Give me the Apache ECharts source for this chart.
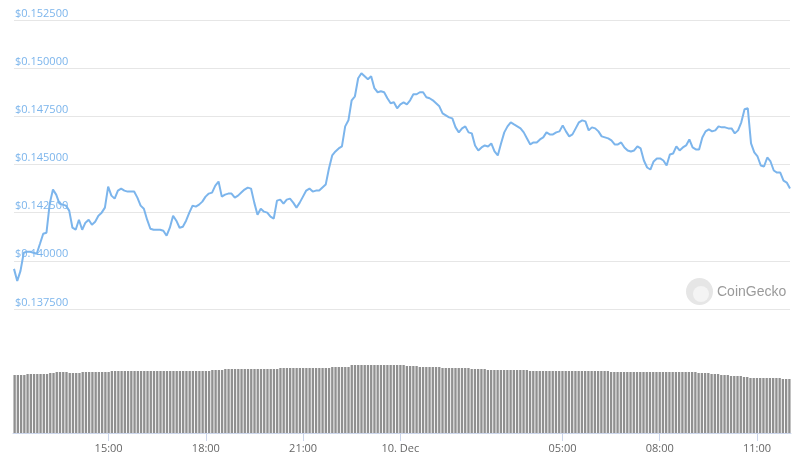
<!DOCTYPE html>
<html>
<head>
<meta charset="utf-8">
<script src="https://cdn.jsdelivr.net/npm/echarts@6/dist/echarts.min.js"></script>
<style>
html,body{margin:0;padding:0;background:#fff;}
#chart{width:807px;height:463px;}
</style>
</head>
<body>
<div id="chart"></div>
<script>
// Price (USD), one point every ~6 minutes starting 12:06
var prices = [
0.139583,0.138958,0.139479,0.140417,0.140469,0.140469,0.140417,0.140365,0.140885,0.141406,
0.141458,0.142969,0.143698,0.143438,0.142969,0.142917,0.142865,0.142604,0.141719,0.141615,
0.142135,0.141615,0.141979,0.142135,0.141875,0.142031,0.142344,0.142500,0.142760,0.143854,
0.143385,0.143229,0.143646,0.143750,0.143646,0.143594,0.143594,0.143594,0.143281,0.142865,
0.142708,0.142135,0.141667,0.141615,0.141615,0.141615,0.141563,0.141302,0.141719,0.142344,
0.142083,0.141719,0.141771,0.142083,0.142500,0.142865,0.142813,0.142917,0.143073,0.143333,
0.143490,0.143542,0.143906,0.144115,0.143333,0.143438,0.143490,0.143490,0.143281,0.143385,
0.143542,0.143698,0.143802,0.143750,0.143021,0.142396,0.142708,0.142552,0.142500,0.142292,
0.142188,0.143125,0.143177,0.142969,0.143177,0.143229,0.143021,0.142760,0.143021,0.143333,
0.143646,0.143750,0.143594,0.143646,0.143646,0.143802,0.143958,0.144792,0.145469,0.145677,
0.145833,0.145938,0.146979,0.147292,0.148333,0.148542,0.149479,0.149740,0.149583,0.149427,
0.149583,0.148958,0.148750,0.148802,0.148750,0.148438,0.148177,0.148229,0.147917,0.148125,
0.148229,0.148125,0.148333,0.148646,0.148646,0.148750,0.148750,0.148490,0.148438,0.148333,
0.148177,0.148021,0.147656,0.147552,0.147448,0.147396,0.146927,0.146667,0.146875,0.146979,
0.146667,0.146615,0.145990,0.145729,0.145885,0.145990,0.145938,0.146094,0.145677,0.145469,
0.146094,0.146667,0.146979,0.147188,0.147083,0.146979,0.146875,0.146667,0.146354,0.146042,
0.146146,0.146146,0.146302,0.146406,0.146667,0.146563,0.146563,0.146667,0.146719,0.147031,
0.146719,0.146458,0.146563,0.146875,0.147188,0.147292,0.147240,0.146771,0.146927,0.146875,
0.146719,0.146458,0.146406,0.146354,0.146250,0.146042,0.146042,0.146146,0.145885,0.145729,
0.145677,0.145729,0.145938,0.145833,0.145208,0.144844,0.144740,0.145156,0.145313,0.145313,
0.145208,0.144948,0.145521,0.145573,0.145938,0.145729,0.145885,0.145990,0.146302,0.145885,
0.145781,0.145781,0.146406,0.146719,0.146823,0.146719,0.146771,0.146979,0.146927,0.146927,
0.146875,0.146875,0.146615,0.146771,0.147188,0.147865,0.147917,0.146094,0.145625,0.145417,
0.144948,0.144896,0.145365,0.145156,0.144688,0.144583,0.144583,0.144167,0.144063,0.143750
];
// Volume (arbitrary units, millions)
var volumes = [
58,58,58,58,59,59,59,59,59,59,
59,60,60,61,61,61,61,60,60,60,
60,61,61,61,61,61,61,61,61,61,
62,62,62,62,62,62,62,62,62,62,
62,62,62,62,62,62,62,62,62,62,
62,62,62,62,62,62,62,62,62,62,
62,63,63,63,63,64,64,64,64,64,
64,64,64,64,64,64,64,64,64,64,
64,64,65,65,65,65,65,65,65,65,
65,65,65,65,65,65,65,65,66,66,
66,66,66,66,68,68,68,68,68,68,
68,68,68,68,68,68,68,68,68,68,
68,67,67,67,67,66,66,66,66,66,
66,66,65,65,65,65,65,65,65,65,
65,64,64,64,64,64,63,63,63,63,
63,63,63,63,63,63,63,63,63,62,
62,62,62,62,62,62,62,62,62,62,
62,62,62,62,62,62,62,62,62,62,
62,62,62,62,61,61,61,61,61,61,
61,61,61,61,61,61,61,61,61,61,
61,61,61,61,61,61,61,61,61,61,
61,60,60,60,60,59,59,59,58,58,
58,57,57,57,57,56,56,55,55,55,
55,55,55,55,55,55,55,54,54,54
];
// Tick labels shown on the time axis
var tickLabels = {'15:00':'15:00','18:00':'18:00','21:00':'21:00','00:00':'10. Dec','05:00':'05:00','08:00':'08:00','11:00':'11:00'};
var yTicks = {min:0.1375, max:0.1525, interval:0.0025};

var startMinutes = 12*60 + 6, stepMinutes = 6;
var categories = [];
for (var i = 0; i < prices.length; i++) {
  var m = (startMinutes + i*stepMinutes) % (24*60);
  var hh = Math.floor(m/60), mm = m % 60;
  categories.push((hh<10?'0':'')+hh+':'+(mm<10?'0':'')+mm);
}
function isTick(idx, val){ return tickLabels.hasOwnProperty(val); }

var FONT = '"Open Sans", Arial, sans-serif';
var chart = echarts.init(document.getElementById('chart'), null, {renderer:'canvas'});
chart.setOption({
  animation:false,
  backgroundColor:'#ffffff',
  grid:[
    {left:14, right:17, top:20, bottom:154, containLabel:false},
    {left:13, right:16, top:353, bottom:30, containLabel:false}
  ],
  xAxis:[
    {type:'category', gridIndex:0, data:categories, boundaryGap:false, show:false},
    {type:'category', gridIndex:1, data:categories, boundaryGap:true,
      axisLine:{lineStyle:{color:'#ccd6eb', width:1}},
      axisTick:{show:true, interval:isTick, alignWithLabel:true, length:8, lineStyle:{color:'#ccd6eb'}},
      axisLabel:{interval:isTick, color:'#666666', fontSize:11, fontFamily:FONT, margin:10,
        formatter:function(v){ return tickLabels[v] || ''; }},
      splitLine:{show:false}}
  ],
  yAxis:[
    {type:'value', gridIndex:0, min:yTicks.min, max:yTicks.max, interval:yTicks.interval,
      axisLine:{show:false}, axisTick:{show:false},
      splitLine:{lineStyle:{color:'#e6e6e6', width:1}},
      axisLabel:{inside:true, margin:1, color:'#7cb5ec', fontSize:11, fontFamily:FONT,
        verticalAlign:'bottom', padding:[0,0,1,0],
        formatter:function(v){ return '$' + v.toFixed(6); }}},
    {type:'value', gridIndex:1, min:0, max:80, show:false, splitLine:{show:false}}
  ],
  graphic:[
    {type:'circle', shape:{cx:699.5, cy:291.5, r:13.5}, style:{fill:'#e6e6e6'}, z:0},
    {type:'circle', shape:{cx:701, cy:294, r:8}, style:{fill:'#f4f4f4'}, z:0},
    {type:'text', style:{x:717, y:292, text:'CoinGecko', fill:'#9a9a9a', font:'14px Arial, "Liberation Sans", sans-serif', textVerticalAlign:'middle'}, z:0}
  ],
  series:[
    {type:'line', xAxisIndex:0, yAxisIndex:0, data:prices, showSymbol:false, smooth:false,
      lineStyle:{color:'#7cb5ec', width:2}, z:5},
    {type:'bar', xAxisIndex:1, yAxisIndex:1, data:volumes, barCategoryGap:'28%',
      itemStyle:{color:'#909090'}}
  ]
});
</script>
</body>
</html>
